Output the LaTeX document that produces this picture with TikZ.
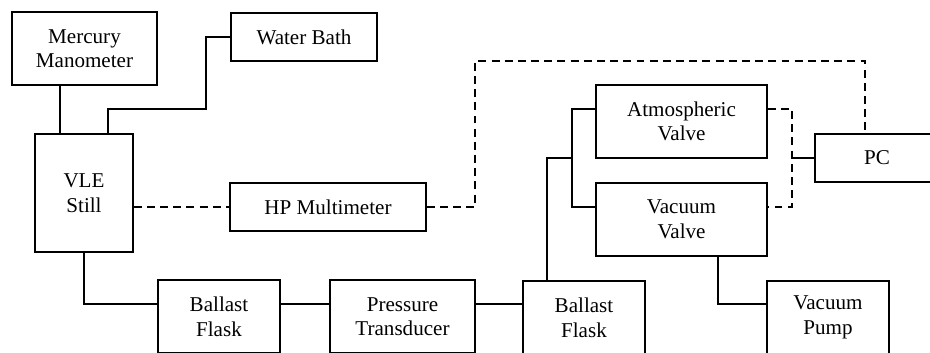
\documentclass[tikz,border=0pt]{standalone}
\usepackage{fontspec}
\setmainfont{Liberation Serif}
\usepackage{tikz}
\usetikzlibrary{calc}

\begin{document}
\begin{tikzpicture}[
    x=0.02cm, y=-0.02cm,
    font=\fontsize{12}{14}\selectfont,
    box/.style={draw, rectangle, line width=0.9pt, align=center, inner sep=0pt},
    tall/.style={minimum height=1.46cm},
    flat/.style={minimum height=0.96cm},
    link/.style={line width=0.9pt},
    signal/.style={link, dash pattern=on 4.5pt off 3pt}
]
\useasboundingbox (0,0) rectangle (930,352);
\clip (0,0) rectangle (930,352);

% apparatus
\node (merc) [box, tall, minimum width=2.9cm] at (84.5,48.5) {Mercury\\Manometer};
\node (bath) [box, flat, minimum width=2.92cm] at (304,37) {Water Bath};
\node (vle) [box, minimum width=1.96cm, minimum height=2.36cm] at (84,193) {VLE\\Still};
\node (hp) [box, flat, minimum width=3.92cm] at (328,207) {HP Multimeter};
\node (atm) [box, tall, minimum width=3.42cm] at (681.5,121.5) {Atmospheric\\Valve};
\node (vac) [box, tall, minimum width=3.42cm] at (681.5,219.5) {Vacuum\\Valve};
\node (pc) [box, flat, minimum width=2.48cm] at (877,158) {PC};
\node (flask1) [box, tall, minimum width=2.44cm] at (219,316.5) {Ballast\\Flask};
\node (pt) [box, tall, minimum width=2.9cm] at (402.5,316.5) {Pressure\\Transducer};
\node (flask2) [box, tall, minimum width=2.44cm] at (584,317.5) {Ballast\\Flask};
\node (pump) [box, tall, minimum width=2.44cm] at (828,317.5) {Vacuum\\Pump};

% junction points
\coordinate (jm) at (60,0);
\coordinate (jv) at (108,0);
\coordinate (jb) at (206,109);
\coordinate (row) at (0,304);
\coordinate (ya) at (0,109);
\coordinate (yv) at (0,207);
\coordinate (jf) at (547,0);
\coordinate (jbr) at (572,158);
\coordinate (jpc) at (792,158);
\coordinate (jd1) at (475,61);
\coordinate (jd2) at (865,0);
\coordinate (jp) at (718,0);

% piping
\draw [link] (merc.south -| jm) -- (vle.north -| jm);
\draw [link] (bath.west) -| (jb) -| (vle.north -| jv);
\draw [link] (vle.south) |- (flask1.west |- row);
\draw [link] (flask1.east |- row) -- (pt.west |- row);
\draw [link] (pt.east |- row) -- (flask2.west |- row);
\draw [link] (flask2.north -| jf) |- (jbr);
\draw [link] (atm.west |- ya) -| (jbr) |- (vac.west |- yv);
\draw [link] (vac.south -| jp) |- (pump.west |- row);
\draw [link] (jpc) -- (pc.west);

% signals
\draw [signal] (vle.east |- hp.west) -- (hp.west);
\draw [signal] (hp.east) -| (jd1) -| (pc.north -| jd2);
\draw [signal] (atm.east |- ya) -| (jpc) |- (vac.east |- yv);
\end{tikzpicture}
\end{document}
